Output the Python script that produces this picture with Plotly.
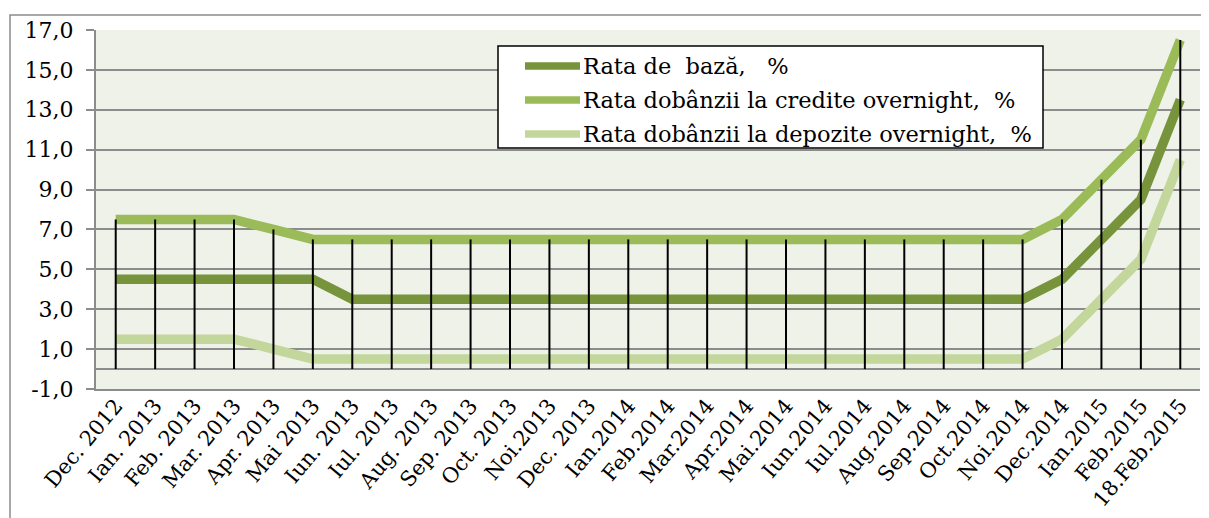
import plotly.graph_objects as go

categories = ["Dec. 2012", "Ian. 2013", "Feb. 2013", "Mar. 2013", "Apr. 2013", "Mai 2013",
              "Iun. 2013", "Iul. 2013", "Aug. 2013", "Sep. 2013", "Oct. 2013", "Noi.2013",
              "Dec. 2013", "Ian.2014", "Feb.2014", "Mar.2014", "Apr.2014", "Mai.2014",
              "Iun.2014", "Iul.2014", "Aug.2014", "Sep.2014", "Oct.2014", "Noi.2014",
              "Dec.2014", "Ian.2015", "Feb.2015", "18.Feb.2015"]

rata_baza = [4.5, 4.5, 4.5, 4.5, 4.4, 4.5,
             3.5, 3.5, 3.5, 3.5, 3.5, 3.5,
             3.5, 3.5, 3.5, 3.5, 3.5, 3.5,
             3.5, 3.5, 3.5, 3.5, 3.5, 3.5,
             4.5, 6.5, 8.5, 13.5]
rata_credite = [7.5, 7.5, 7.5, 7.5, 7.0, 6.5,
                6.5, 6.5, 6.5, 6.5, 6.5, 6.5,
                6.5, 6.5, 6.5, 6.5, 6.5, 6.5,
                6.5, 6.5, 6.5, 6.5, 6.5, 6.5,
                7.5, 9.5, 11.5, 16.5]
rata_depozite = [1.5, 1.5, 1.5, 1.5, 1.0, 0.5,
                 0.5, 0.5, 0.5, 0.5, 0.5, 0.5,
                 0.5, 0.5, 0.5, 0.5, 0.5, 0.5,
                 0.5, 0.5, 0.5, 0.5, 0.5, 0.5,
                 1.5, 3.5, 5.5, 10.5]

y_tick_values = [-1, 1, 3, 5, 7, 9, 11, 13, 15, 17]
y_tick_labels = ["-1,0", "1,0", "3,0", "5,0", "7,0", "9,0", "11,0", "13,0", "15,0", "17,0"]

series_names = ["Rata de\u00a0 bază, \u00a0 %",
                "Rata dobânzii la credite overnight, \u00a0%",
                "Rata dobânzii la depozite overnight, \u00a0%"]
series_colors = ["#77933C", "#9BBB59", "#C3D69B"]

FONT = "DejaVu Serif"
OFF = 8                       # page body margin offset
W, H = 1201, 510
# plot area in page pixels: x 96..1200, y 30..389
L, T = 96 - OFF, 30 - OFF
R = W - (1200 - OFF)
B = H - (389 - OFF)
PW, PH = W - L - R, H - T - B


def px_x(p):
    return (p - OFF - L) / PW


def px_y(p):
    return (H - B - (p - OFF)) / PH


fig = go.Figure()
for name, vals, col in zip(series_names, [rata_baza, rata_credite, rata_depozite], series_colors):
    fig.add_trace(go.Scatter(x=categories, y=vals, mode="lines", name=name,
                             line=dict(color=col, width=9.5), showlegend=False))

# drop lines from the highest series down to zero
dx, dy = [], []
for c, a, b, d in zip(categories, rata_baza, rata_credite, rata_depozite):
    dx += [c, c, None]
    dy += [0, max(a, b, d), None]
fig.add_trace(go.Scatter(x=dx, y=dy, mode="lines", showlegend=False,
                         line=dict(color="black", width=2), hoverinfo="skip"))

shapes = [
    # outer chart border
    dict(type="rect", xref="paper", yref="paper",
         x0=px_x(10), x1=px_x(1230), y0=px_y(540), y1=px_y(15),
         line=dict(color="#8C8C8C", width=1.5), fillcolor="rgba(0,0,0,0)", layer="below"),
    # legend box
    dict(type="rect", xref="paper", yref="paper",
         x0=px_x(498), x1=px_x(1043), y0=px_y(148), y1=px_y(46),
         line=dict(color="black", width=1.5), fillcolor="white", layer="above"),
]
annotations = []
row_y = [66, 100, 134]
for name, col, ry in zip(series_names, series_colors, row_y):
    shapes.append(dict(type="line", xref="paper", yref="paper",
                       x0=px_x(525), x1=px_x(580), y0=px_y(ry), y1=px_y(ry),
                       line=dict(color=col, width=7.5), layer="above"))
    annotations.append(dict(xref="paper", yref="paper", x=px_x(581), y=px_y(ry),
                            xanchor="left", yanchor="middle", showarrow=False,
                            text=name, font=dict(family=FONT, size=22.5, color="black")))

fig.update_layout(
    width=W, height=H,
    margin=dict(l=L, r=R, t=T, b=B),
    paper_bgcolor="white", plot_bgcolor="#EEF2E8",
    font=dict(family=FONT, size=20, color="black"),
    showlegend=False,
    shapes=shapes,
    annotations=annotations,
)
fig.update_xaxes(type="category", range=[-0.5, len(categories) - 0.5],
                 tickangle=-50, showgrid=False, showline=True, linecolor="#8C8C8C",
                 linewidth=2, ticks="", automargin=False, ticklabelstandoff=-6,
                 tickfont=dict(family=FONT, size=21))
fig.update_yaxes(range=[-1, 17], tickvals=y_tick_values, ticktext=y_tick_labels,
                 showgrid=True, gridcolor="#8C8C8C", gridwidth=2,
                 zeroline=True, zerolinecolor="#8C8C8C", zerolinewidth=2,
                 showline=True, linecolor="#8C8C8C", linewidth=2,
                 ticks="outside", ticklen=8, tickcolor="#8C8C8C", tickwidth=2,
                 automargin=False, ticklabelstandoff=8,
                 tickfont=dict(family=FONT, size=22))

fig.write_html("out.html")
